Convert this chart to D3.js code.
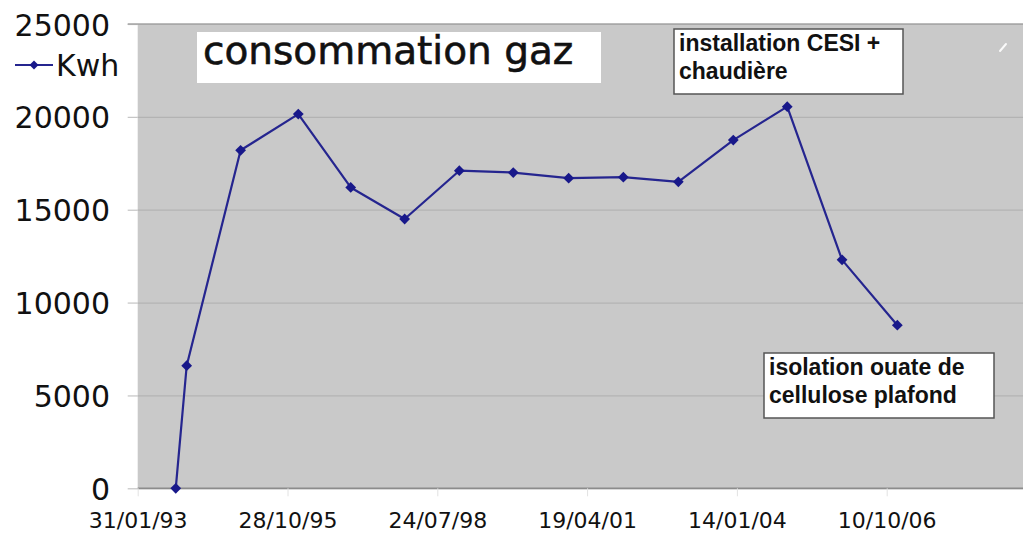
<!DOCTYPE html>
<html>
<head>
<meta charset="utf-8">
<script src="https://cdn.jsdelivr.net/npm/d3@7"></script>
<style>
  html, body { margin: 0; padding: 0; background: #fff; }
  svg { display: block; }
</style>
</head>
<body>
<svg id="chart" width="1023" height="533"></svg>
<script>
// Gas consumption readings (kWh), one per meter reading date
const readingDates = [
  "1993-10-12", "1993-12-24", "1994-12-19", "1996-01-08", "1996-12-23",
  "1997-12-18", "1998-12-18", "1999-12-13", "2000-12-17", "2001-12-17",
  "2002-12-19", "2003-12-21", "2004-12-15", "2005-12-16", "2006-12-20"
];
const kwhValues = [
  0, 6600, 18200, 20150, 16200,
  14500, 17100, 17000, 16700, 16750,
  16500, 18750, 20550, 12300, 8780
];
const yTickValues = [0, 5000, 10000, 15000, 20000, 25000];
const xAxisStart = "1993-01-31";
const xTickStepDays = 1000;
const xTickCount = 6;

const seriesName = "Kwh";
const chartTitle = "consommation gaz";
const noteBoiler = ["installation CESI +", "chaudière"];
const noteInsulation = ["isolation ouate de", "cellulose plafond"];

const parse = d3.utcParse("%Y-%m-%d");
const fmt = d3.utcFormat("%d/%m/%y");
const data = readingDates.map((d, i) => ({ date: parse(d), value: kwhValues[i] }));

const svg = d3.select("#chart");
const W = 1023;
const plot = { left: 137.7, top: 24, bottom: 488.3, right: W };

const start = parse(xAxisStart);
const x = d3.scaleUtc()
  .domain([start, d3.utcDay.offset(start, 6000)])
  .range([plot.left, plot.left + 6000 * 0.1498]);
const y = d3.scaleLinear().domain([0, 25000]).range([plot.bottom, plot.top]);

const xTicks = d3.range(xTickCount).map(i => d3.utcDay.offset(start, i * xTickStepDays));

// plot area background
svg.append("rect")
  .attr("x", plot.left).attr("y", plot.top)
  .attr("width", plot.right - plot.left).attr("height", plot.bottom - plot.top)
  .attr("fill", "#c9c9c9");

// horizontal gridlines with outward ticks
const yAxis = d3.axisLeft(y)
  .tickValues(yTickValues)
  .tickSize(-(plot.right - plot.left))
  .tickSizeOuter(0)
  .tickFormat("");
const gy = svg.append("g").attr("transform", `translate(${plot.left},0)`).call(yAxis);
gy.select(".domain").remove();
gy.selectAll(".tick line").attr("stroke", "#b3b3b3").attr("stroke-width", 1.2);
gy.selectAll(".tick").append("line")
  .attr("x1", -10).attr("x2", 0).attr("stroke", "#c4c4c4").attr("stroke-width", 1.2);

// top and bottom borders
svg.append("line").attr("x1", plot.left - 10).attr("x2", plot.right)
  .attr("y1", plot.top).attr("y2", plot.top)
  .attr("stroke", "#a4a4a4").attr("stroke-width", 1.5);
svg.append("line").attr("x1", plot.left).attr("x2", plot.right)
  .attr("y1", plot.bottom).attr("y2", plot.bottom)
  .attr("stroke", "#8c8c8c").attr("stroke-width", 1.5);

// y tick labels
svg.append("g").selectAll("text")
  .data(yTickValues)
  .join("text")
  .attr("x", 110)
  .attr("y", d => y(d) + 11.5)
  .attr("text-anchor", "end")
  .attr("font-family", "DejaVu Sans, sans-serif")
  .attr("font-size", 30)
  .attr("fill", "#111")
  .text(d => d);

// x axis ticks and labels
const xAxis = d3.axisBottom(x)
  .tickValues(xTicks)
  .tickSize(8)
  .tickSizeOuter(0)
  .tickFormat(fmt);
const gx = svg.append("g").attr("transform", `translate(0,${plot.bottom})`).call(xAxis);
gx.select(".domain").remove();
gx.selectAll(".tick line").attr("stroke", "#e2e2e2").attr("stroke-width", 1);
gx.selectAll(".tick text")
  .attr("y", 0).attr("dy", 0)
  .attr("transform", "translate(0,40)")
  .attr("font-family", "DejaVu Sans, sans-serif")
  .attr("font-size", 22)
  .attr("fill", "#111");

// consumption line
const lineColor = "#25258f";
const line = d3.line().x(d => x(d.date)).y(d => y(d.value));
svg.append("path")
  .datum(data)
  .attr("d", line)
  .attr("fill", "none")
  .attr("stroke", lineColor)
  .attr("stroke-width", 2.2)
  .attr("stroke-linejoin", "round");

const marker = d3.symbol().type(d3.symbolSquare).size(58);
svg.append("g").selectAll("path")
  .data(data)
  .join("path")
  .attr("d", marker)
  .attr("transform", d => `translate(${x(d.date)},${y(d.value)}) rotate(45)`)
  .attr("fill", "#18188a");

// legend
const legend = svg.append("g").attr("transform", "translate(15,65)");
legend.append("line").attr("x1", 0).attr("x2", 38).attr("y1", 0).attr("y2", 0)
  .attr("stroke", lineColor).attr("stroke-width", 2);
legend.append("path").attr("d", d3.symbol().type(d3.symbolSquare).size(40))
  .attr("transform", "translate(19,0) rotate(45)")
  .attr("fill", "#18188a");
legend.append("text")
  .attr("x", 41).attr("y", 10.5)
  .attr("font-family", "DejaVu Sans, sans-serif")
  .attr("font-size", 30)
  .attr("fill", "#111")
  .text(seriesName);

// title box
svg.append("rect").attr("x", 197).attr("y", 32).attr("width", 404).attr("height", 51)
  .attr("fill", "#fff");
svg.append("text")
  .attr("x", 203).attr("y", 64)
  .attr("font-family", "DejaVu Sans, sans-serif")
  .attr("font-size", 39)
  .attr("fill", "#111")
  .attr("stroke", "#111")
  .attr("stroke-width", 0.6)
  .text(chartTitle);

// annotation boxes
function note(bx, by, bw, bh, lines) {
  const g = svg.append("g");
  g.append("rect").attr("x", bx).attr("y", by).attr("width", bw).attr("height", bh)
    .attr("fill", "#fff").attr("stroke", "#555").attr("stroke-width", 1.5);
  g.selectAll("text").data(lines).join("text")
    .attr("x", bx + 5)
    .attr("y", (d, i) => by + 22 + i * 27.5)
    .attr("font-family", "Liberation Sans, Arial, sans-serif")
    .attr("font-weight", "bold")
    .attr("font-size", 23)
    .attr("fill", "#111")
    .text(d => d);
}
note(674, 29, 229, 65, noteBoiler);
note(764, 353, 230, 65, noteInsulation);

// small white stroke in the upper-right corner of the plot
svg.append("line").attr("x1", 1000).attr("y1", 51).attr("x2", 1006).attr("y2", 44)
  .attr("stroke", "#fafafa").attr("stroke-width", 2).attr("stroke-linecap", "round");
</script>
</body>
</html>
